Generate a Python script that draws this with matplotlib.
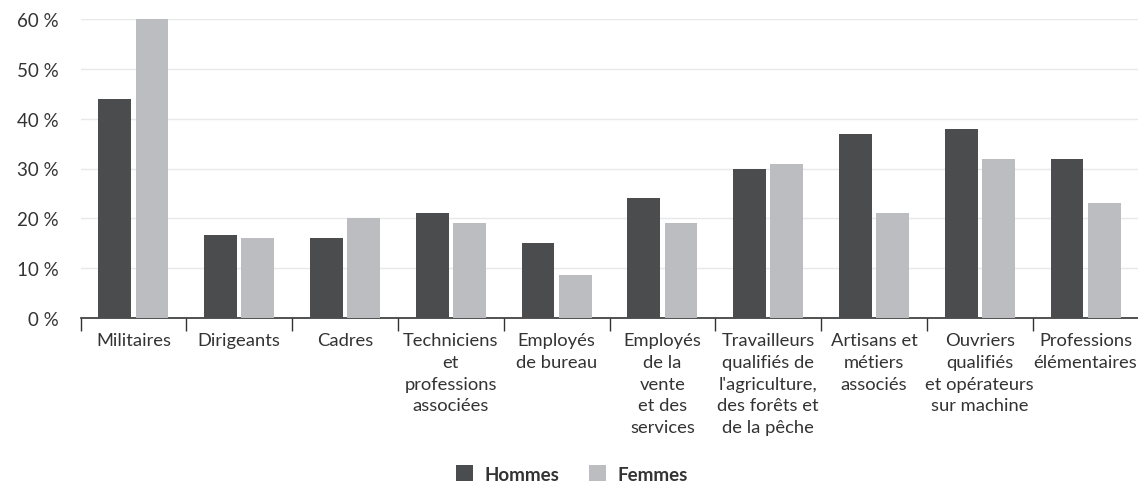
import matplotlib
matplotlib.use("Agg")
import matplotlib.pyplot as plt
import numpy as np

categories = [
    "Militaires",
    "Dirigeants",
    "Cadres",
    "Techniciens\net\nprofessions\nassociées",
    "Employés\nde bureau",
    "Employés\nde la\nvente\net des\nservices",
    "Travailleurs\nqualifiés de\nl'agriculture,\ndes forêts et\nde la pêche",
    "Artisans et\nmétiers\nassociés",
    "Ouvriers\nqualifiés\net opérateurs\nsur machine",
    "Professions\nélémentaires",
]
hommes = [44, 16.7, 16, 21, 15, 24, 30, 37, 38, 32]
femmes = [60, 16, 20, 19, 8.7, 19, 31, 21, 32, 23]
yticks = [0, 10, 20, 30, 40, 50, 60]

plt.rcParams["font.family"] = ["Lato", "DejaVu Sans"]
text_col = "#333333"
c_h = "#4b4c4e"
c_f = "#bcbdc0"

fig = plt.figure(figsize=(11.38, 4.85), dpi=100)
ax = fig.add_axes([80.5 / 1138, 166 / 485, 1058 / 1138, 299 / 485])

x = np.arange(len(categories))
w = 0.31
ax.bar(x - 0.175, hommes, w, color=c_h, label="Hommes", zorder=3)
ax.bar(x + 0.175, femmes, w, color=c_f, label="Femmes", zorder=3)

ax.set_xlim(-0.5, len(categories) - 0.5)
ax.set_ylim(0, 60)
ax.set_yticks(yticks)
ax.set_yticklabels([f"{v} %" for v in yticks], fontsize=13.5, color=text_col)
ax.tick_params(axis="y", length=0, pad=16)
ax.grid(axis="y", color="#e8e8e8", linewidth=1, zorder=0)

# category boundaries as ticks, labels centered between them
ax.set_xticks(np.arange(len(categories) + 1) - 0.5)
ax.set_xticklabels([])
ax.set_xticks(x, minor=True)
ax.set_xticklabels(categories, minor=True, fontsize=13.2, color=text_col,
                   linespacing=1.45)
ax.tick_params(axis="x", which="major", length=9, width=1, color="#333333")
ax.tick_params(axis="x", which="minor", length=0, pad=10)

for s in ["top", "right", "left"]:
    ax.spines[s].set_visible(False)
ax.spines["bottom"].set_color("#333333")
ax.spines["bottom"].set_linewidth(1.2)

leg = fig.legend(loc="center", bbox_to_anchor=(572 / 1138, 1 - 475 / 485),
                 ncol=2, frameon=False, handlelength=0.9, handleheight=0.9,
                 columnspacing=1.6, handletextpad=0.6,
                 prop={"weight": "bold", "size": 13.5})
for t in leg.get_texts():
    t.set_color(text_col)

fig.savefig("out.png", dpi=100)
